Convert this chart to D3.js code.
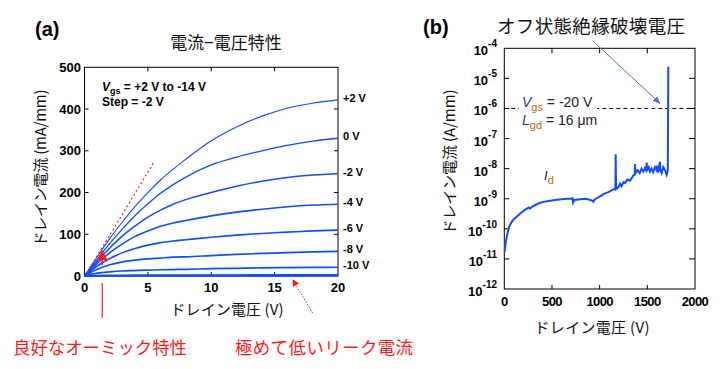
<!DOCTYPE html>
<html><head><meta charset="utf-8">
<script src="https://cdn.jsdelivr.net/npm/d3@7"></script>
<style>
html,body{margin:0;padding:0;background:#fff;}
svg{display:block;}
.num{font-family:"Liberation Sans",Arial,sans-serif;font-weight:bold;}
.jp{font-family:"Noto Sans CJK JP","Noto Sans",sans-serif;}
</style></head>
<body>
<svg id="c" width="721" height="369"></svg>
<script>
// ---------- Data: panel (a) I-V curves ----------
const vdsPoints = [0, 1, 2, 3, 4, 5, 6, 7, 8, 10, 12, 14, 16, 18, 20];
const vgsLabels = ["+2 V", "0 V", "-2 V", "-4 V", "-6 V", "-8 V", "-10 V", "", ""];
const idP2  = [0, 46, 90, 130, 167, 200, 230, 256, 280, 324, 357, 383, 402, 414, 422];
const idP0  = [0, 40, 78, 113, 145, 173, 198, 219, 237, 266, 285, 300, 313, 323, 330];
const idM2  = [0, 35, 67, 96, 120, 141, 158, 172, 183, 200, 215, 227, 236, 242, 245];
const idM4  = [0, 30, 56, 77, 95, 108, 119, 127, 133, 144, 153, 160, 166, 170, 172];
const idM6  = [0, 24, 42, 56, 66, 74, 80, 84, 87, 93, 98, 102, 105, 108, 110];
const idM8  = [0, 16, 27, 34, 38, 41, 43, 45, 46, 49, 52, 54, 56, 58, 59];
const idM10 = [0, 7, 10, 12, 13, 14, 15, 15.5, 16, 17.5, 18.5, 19.5, 20, 20.5, 21];
const idM12 = [0, 1, 1.4, 1.7, 1.9, 2, 2.1, 2.1, 2.2, 2.3, 2.3, 2.4, 2.4, 2.5, 2.5];
const idM14 = [0, 0.2, 0.3, 0.4, 0.4, 0.5, 0.5, 0.5, 0.5, 0.6, 0.6, 0.6, 0.6, 0.7, 0.7];
const ohmicV = [0.2, 5.5];
const ohmicI = [8, 274];
const ivXTicks = [0, 5, 10, 15, 20];
const ivYTicks = [0, 100, 200, 300, 400, 500];

// ---------- Data: panel (b) off-state breakdown ----------
const leakV = [4, 15, 30, 45, 60, 80, 100, 130, 170, 217, 255, 270, 290, 330, 375, 450, 514, 600, 654, 700, 715, 722, 735, 794, 860, 900, 925, 934, 945, 960, 1004, 1050, 1091, 1140, 1165, 1168, 1172, 1196, 1215, 1230, 1250, 1266, 1290, 1318, 1340, 1353, 1368, 1371, 1376, 1400, 1420, 1440, 1458, 1475, 1490, 1493, 1497, 1515, 1528, 1545, 1560, 1580, 1598, 1602, 1615, 1633, 1638, 1650, 1668, 1690, 1703, 1715, 1720];
const leakLogI = [-10.76, -10.45, -10.2, -10.0, -9.87, -9.76, -9.68, -9.6, -9.48, -9.37, -9.29, -9.33, -9.27, -9.2, -9.13, -9.08, -9.05, -9.02, -9.0, -9.0, -8.98, -9.13, -9.04, -9.02, -9.0, -9.04, -9.07, -9.1, -9.04, -9.0, -8.92, -8.83, -8.78, -8.7, -8.66, -7.52, -8.68, -8.62, -8.5, -8.58, -8.45, -8.48, -8.36, -8.4, -8.3, -8.22, -8.2, -7.85, -8.15, -8.05, -8.15, -8.0, -8.1, -7.98, -8.08, -7.8, -8.05, -7.95, -8.1, -8.0, -8.12, -7.95, -8.05, -7.9, -8.12, -7.77, -8.05, -8.15, -7.95, -8.08, -8.2, -8.05, -4.61];
const bdXTicks = [0, 500, 1000, 1500, 2000];
const bdYExps = [-12, -11, -10, -9, -8, -7, -6, -5, -4];
const refCurrent = 1e-6;

const svg = d3.select("#c");
const blue = "#0f4dff";

// ================= Panel (a) =================
const xa = d3.scaleLinear().domain([0, 20]).range([84.5, 338]);
const ya = d3.scaleLinear().domain([0, 500]).range([276, 67.3]);
const ga = svg.append("g");

ga.append("rect").attr("x", xa(0)).attr("y", ya(500)).attr("width", xa(20) - xa(0)).attr("height", ya(0) - ya(500))
  .attr("fill", "none").attr("stroke", "#000").attr("stroke-width", 1);

ivXTicks.slice(1, -1).forEach(t => {
  ga.append("line").attr("x1", xa(t)).attr("x2", xa(t)).attr("y1", ya(0)).attr("y2", ya(0) - 4).attr("stroke", "#000");
  ga.append("line").attr("x1", xa(t)).attr("x2", xa(t)).attr("y1", ya(500)).attr("y2", ya(500) + 4).attr("stroke", "#000");
});
ivYTicks.slice(1, -1).forEach(t => {
  ga.append("line").attr("x1", xa(0)).attr("x2", xa(0) + 4).attr("y1", ya(t)).attr("y2", ya(t)).attr("stroke", "#000");
  ga.append("line").attr("x1", xa(20)).attr("x2", xa(20) - 4).attr("y1", ya(t)).attr("y2", ya(t)).attr("stroke", "#000");
});
ivXTicks.forEach(t => {
  ga.append("text").attr("class", "num").attr("x", xa(t)).attr("y", 292).attr("text-anchor", "middle")
    .attr("font-size", 13).text(t);
});
ivYTicks.forEach(t => {
  ga.append("text").attr("class", "num").attr("x", 81).attr("y", ya(t) + 4.5).attr("text-anchor", "end")
    .attr("font-size", 13).text(t);
});

const curves = [idP2, idP0, idM2, idM4, idM6, idM8, idM10, idM12, idM14];
const widths = [1.1, 1.3, 1.5, 1.6, 1.6, 1.7, 1.7, 1.8, 1.8];
const lineA = d3.line().x((d, i) => xa(vdsPoints[i])).y(d => ya(d)).curve(d3.curveMonotoneX);
curves.forEach((c, k) => {
  ga.append("path").attr("d", lineA(c)).attr("fill", "none").attr("stroke", blue).attr("stroke-width", widths[k]);
  if (vgsLabels[k]) {
    ga.append("text").attr("class", "num").attr("x", 343).attr("y", ya(c[c.length - 1]) + 2)
      .attr("font-size", 11).text(vgsLabels[k]);
  }
});

ga.append("line").attr("x1", xa(ohmicV[0])).attr("y1", ya(ohmicI[0])).attr("x2", xa(ohmicV[1])).attr("y2", ya(ohmicI[1]))
  .attr("stroke", "#ff1a1a").attr("stroke-width", 1.2).attr("stroke-dasharray", "2,2.5");

const t1 = ga.append("text").attr("class", "num").attr("x", 102).attr("y", 91).attr("font-size", 12);
t1.append("tspan").attr("font-style", "italic").text("V");
t1.append("tspan").attr("font-size", 9).attr("dy", 3).text("gs");
t1.append("tspan").attr("dy", -3).text(" = +2 V to -14 V");
ga.append("text").attr("class", "num").attr("x", 102).attr("y", 106).attr("font-size", 12).text("Step = -2 V");

svg.append("text").attr("class", "num").attr("x", 35).attr("y", 36).attr("font-size", 20).text("(a)");
svg.append("text").attr("class", "jp").attr("x", 226).attr("y", 49).attr("text-anchor", "middle")
  .attr("font-size", 17).attr("fill", "#111").text("電流−電圧特性");
svg.append("text").attr("class", "jp").attr("x", 227).attr("y", 315).attr("text-anchor", "middle")
  .attr("font-size", 15).attr("fill", "#111").attr("textLength", 113).text("ドレイン電圧 (V)");
svg.append("text").attr("class", "jp").attr("transform", "translate(46,168) rotate(-90)").attr("text-anchor", "middle")
  .attr("font-size", 15).attr("fill", "#111").attr("textLength", 157).text("ドレイン電流 (mA/mm)");

const red = "#ff1a1a";
svg.append("defs").html(
  '<marker id="ra" viewBox="0 0 10 10" refX="9" refY="5" markerWidth="7" markerHeight="7" orient="auto-start-reverse"><path d="M0,0 L10,5 L0,10 z" fill="#ff1a1a"/></marker>' +
  '<marker id="ba" viewBox="0 0 10 10" refX="9" refY="5" markerWidth="8" markerHeight="8" orient="auto-start-reverse"><path d="M0,1 L10,5 L0,9 z" fill="#4a78c8"/></marker>');
ga.append("line").attr("x1", xa(1.4)).attr("x2", xa(1.4)).attr("y1", ya(-17)).attr("y2", ya(-101)).attr("stroke", red).attr("stroke-width", 1.2);
ga.append("line").attr("x1", xa(1.4)).attr("x2", xa(1.4)).attr("y1", ya(26)).attr("y2", ya(60)).attr("stroke", red).attr("stroke-width", 1.5).attr("marker-end", "url(#ra)");
ga.append("line").attr("x1", xa(18.0)).attr("y1", ya(-89)).attr("x2", xa(16.44)).attr("y2", ya(-9)).attr("stroke", red)
  .attr("stroke-width", 1).attr("stroke-dasharray", "1.5,1.5").attr("marker-end", "url(#ra)");
svg.append("text").attr("class", "jp").attr("x", 13).attr("y", 354).attr("font-size", 17.4).attr("fill", red)
  .attr("textLength", 174).text("良好なオーミック特性");
svg.append("text").attr("class", "jp").attr("x", 235).attr("y", 354).attr("font-size", 17.4).attr("fill", red)
  .attr("textLength", 178).text("極めて低いリーク電流");

// ================= Panel (b) =================
const xb = d3.scaleLinear().domain([0, 2000]).range([504.3, 695]);
const yb = d3.scaleLog().domain([1e-12, 1e-4]).range([289, 48.3]);
const gb = svg.append("g");
gb.append("rect").attr("x", xb(0)).attr("y", yb(1e-4)).attr("width", xb(2000) - xb(0)).attr("height", yb(1e-12) - yb(1e-4))
  .attr("fill", "none").attr("stroke", "#000").attr("stroke-width", 1);
bdXTicks.slice(1, -1).forEach(t => {
  gb.append("line").attr("x1", xb(t)).attr("x2", xb(t)).attr("y1", yb(1e-12)).attr("y2", yb(1e-12) - 4).attr("stroke", "#000");
  gb.append("line").attr("x1", xb(t)).attr("x2", xb(t)).attr("y1", yb(1e-4)).attr("y2", yb(1e-4) + 5).attr("stroke", "#000");
});
bdYExps.slice(1, -1).forEach(e => {
  const v = Math.pow(10, e);
  gb.append("line").attr("x1", xb(0)).attr("x2", xb(0) + 5).attr("y1", yb(v)).attr("y2", yb(v)).attr("stroke", "#000");
  gb.append("line").attr("x1", xb(2000)).attr("x2", xb(2000) - 6).attr("y1", yb(v)).attr("y2", yb(v)).attr("stroke", "#000");
});
bdXTicks.forEach(t => {
  gb.append("text").attr("class", "num").attr("x", xb(t)).attr("y", 306).attr("text-anchor", "middle")
    .attr("font-size", 13).attr("letter-spacing", -0.6).text(t);
});
bdYExps.forEach(e => {
  const y = yb(Math.pow(10, e));
  const tx = gb.append("text").attr("class", "num").attr("x", 497).attr("y", y + 7).attr("text-anchor", "end").attr("font-size", 13);
  tx.append("tspan").text("10");
  tx.append("tspan").attr("font-size", 10).attr("dy", -8).text(String(e));
});

gb.append("line").attr("x1", xb(0)).attr("x2", xb(2000)).attr("y1", yb(refCurrent)).attr("y2", yb(refCurrent))
  .attr("stroke", "#000").attr("stroke-width", 1).attr("stroke-dasharray", "4,3");

const lineB = d3.line().x((d, i) => xb(leakV[i])).y(d => yb(Math.pow(10, d)));
gb.append("path").attr("d", lineB(leakLogI)).attr("fill", "none").attr("stroke", blue).attr("stroke-width", 2).attr("stroke-linejoin", "miter");

gb.append("rect").attr("x", 519).attr("y", 92).attr("width", 78).attr("height", 17).attr("fill", "#fff");
const nav = "#1d3c8c", org = "#c0651a";
const tb = gb.append("text").attr("x", 522).attr("y", 107).attr("font-family", "Liberation Sans, Arial, sans-serif").attr("font-size", 14).attr("fill", "#222");
tb.append("tspan").attr("font-style", "italic").attr("fill", nav).text("V");
tb.append("tspan").attr("font-size", 11).attr("dy", 4).attr("fill", org).text("gs");
tb.append("tspan").attr("dy", -4).text(" = -20 V");
const tl = gb.append("text").attr("x", 522).attr("y", 125).attr("font-family", "Liberation Sans, Arial, sans-serif").attr("font-size", 14).attr("fill", "#222");
tl.append("tspan").attr("font-style", "italic").attr("fill", nav).text("L");
tl.append("tspan").attr("font-size", 11).attr("dy", 4).attr("fill", org).text("gd");
tl.append("tspan").attr("dy", -4).text(" = 16 μm");
const ti = gb.append("text").attr("x", 544).attr("y", 180).attr("font-family", "Liberation Sans, Arial, sans-serif").attr("font-size", 13).attr("fill", "#222");
ti.append("tspan").attr("font-style", "italic").text("I");
ti.append("tspan").attr("font-size", 11).attr("dy", 4).attr("fill", org).text("d");

gb.append("line").attr("x1", xb(927)).attr("y1", yb(Math.pow(10, -3.75))).attr("x2", xb(1633)).attr("y2", yb(Math.pow(10, -5.83)))
  .attr("stroke", "#4a78c8").attr("stroke-width", 1).attr("marker-end", "url(#ba)");

svg.append("text").attr("class", "num").attr("x", 423).attr("y", 34).attr("font-size", 20).text("(b)");
svg.append("text").attr("class", "jp").attr("x", 497).attr("y", 33).attr("font-size", 18.5).attr("fill", "#111")
  .attr("textLength", 188).text("オフ状態絶縁破壊電圧");
svg.append("text").attr("class", "jp").attr("x", 592).attr("y", 333).attr("text-anchor", "middle")
  .attr("font-size", 15).attr("fill", "#111").attr("textLength", 115).text("ドレイン電圧 (V)");
svg.append("text").attr("class", "jp").attr("transform", "translate(455,162) rotate(-90)").attr("text-anchor", "middle")
  .attr("font-size", 15).attr("fill", "#111").attr("textLength", 145).text("ドレイン電流 (A/mm)");
</script>
</body></html>
